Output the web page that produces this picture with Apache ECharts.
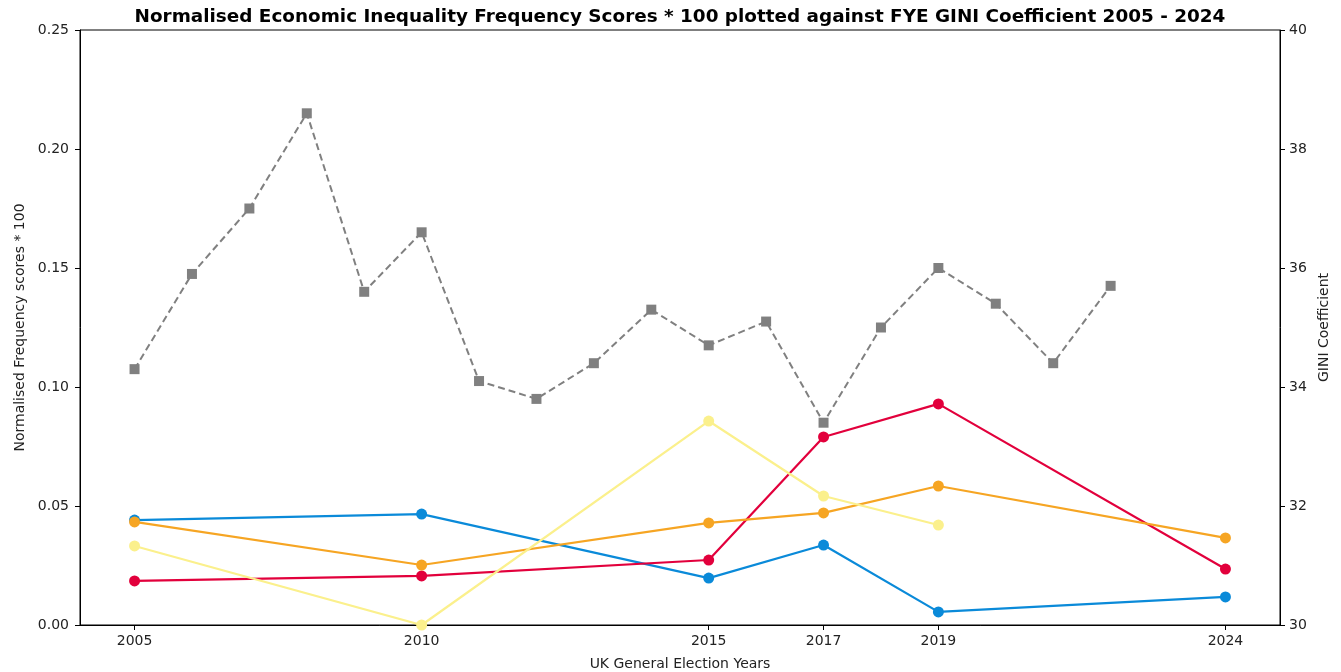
<!DOCTYPE html>
<html>
<head>
<meta charset="utf-8">
<script src="https://cdn.jsdelivr.net/npm/echarts@6/dist/echarts.min.js"></script>
<style>
  html, body { margin: 0; padding: 0; background: #fff; }
  #chart { width: 1341px; height: 672px; }
</style>
</head>
<body>
<div id="chart"></div>
<script>
// Election years used for the party frequency series
const electionYears = [2005, 2010, 2015, 2017, 2019, 2024];

// Normalised frequency scores * 100, per party
const conservative = [0.0441, 0.0466, 0.0197, 0.0336, 0.0055, 0.0118];
const labour       = [0.0185, 0.0206, 0.0273, 0.0790, 0.0929, 0.0235];
const libDem       = [0.0433, 0.0252, 0.0429, 0.0471, 0.0584, 0.0366];
const snp          = [0.0332, 0.0000, 0.0857, 0.0542, 0.0420, null];

// Financial-year-end GINI coefficient
const giniYears = [2005, 2006, 2007, 2008, 2009, 2010, 2011, 2012, 2013,
                   2014, 2015, 2016, 2017, 2018, 2019, 2020, 2021, 2022];
const giniValues = [34.3, 35.9, 37.0, 38.6, 35.6, 36.6, 34.1, 33.8, 34.4,
                    35.3, 34.7, 35.1, 33.4, 35.0, 36.0, 35.4, 34.4, 35.7];

const pair = (xs, ys) => xs.map((x, i) => [x, ys[i]]).filter(p => p[1] !== null);

const FONT = 'DejaVu Sans';
const axisCommon = {
  axisLine: { show: true, lineStyle: { color: '#000', width: 1 } },
  axisTick: { show: true, length: 5, inside: false, lineStyle: { color: '#000' } },
  axisLabel: { color: '#222', fontFamily: FONT, fontSize: 14 },
  splitLine: { show: false }
};

function partySeries(name, ys, color) {
  return {
    name, type: 'line', yAxisIndex: 0,
    data: pair(electionYears, ys),
    symbol: 'circle', symbolSize: 11,
    itemStyle: { color },
    lineStyle: { color, width: 2.2 },
    emphasis: { disabled: true },
    animation: false
  };
}

const chart = echarts.init(document.getElementById('chart'), null, { renderer: 'canvas' });
chart.setOption({
  backgroundColor: '#fff',
  animation: false,
  title: {
    text: 'Normalised Economic Inequality Frequency Scores * 100 plotted against FYE GINI Coefficient 2005 - 2024',
    left: 675, top: 3, textAlign: 'center',
    textStyle: { fontFamily: FONT, fontWeight: 'bold', fontSize: 18.4, color: '#000' }
  },
  grid: {
    left: 80, right: 61, top: 30, bottom: 47,
    outerBoundsMode: 'none', containLabel: false,
    show: true, borderColor: '#000', borderWidth: 1
  },
  xAxis: {
    type: 'value', min: 2004.05, max: 2024.95,
    name: 'UK General Election Years', nameLocation: 'middle', nameGap: 32,
    nameTextStyle: { fontFamily: FONT, fontSize: 14, color: '#222' },
    ...axisCommon,
    axisTick: { ...axisCommon.axisTick, customValues: electionYears },
    axisLabel: { ...axisCommon.axisLabel, margin: 9, customValues: electionYears, formatter: v => String(v) }
  },
  yAxis: [
    {
      type: 'value', min: 0, max: 0.25, interval: 0.05, position: 'left',
      name: 'Normalised Frequency scores * 100', nameLocation: 'middle', nameGap: 53, nameRotate: 90,
      nameTextStyle: { fontFamily: FONT, fontSize: 14, color: '#222' },
      ...axisCommon,
      axisLabel: { ...axisCommon.axisLabel, margin: 11, formatter: v => v.toFixed(2) }
    },
    {
      type: 'value', min: 30, max: 40, interval: 2, position: 'right',
      name: 'GINI Coefficient', nameLocation: 'middle', nameGap: 36, nameRotate: 90,
      nameTextStyle: { fontFamily: FONT, fontSize: 14, color: '#222' },
      ...axisCommon,
      axisLabel: { ...axisCommon.axisLabel, margin: 9 }
    }
  ],
  series: [
    partySeries('Conservative', conservative, '#0a8ad9'),
    partySeries('Labour', labour, '#e2003c'),
    partySeries('Liberal Democrat', libDem, '#f6a523'),
    partySeries('SNP', snp, '#fbf08c'),
    {
      name: 'GINI Coefficient', type: 'line', yAxisIndex: 1,
      data: pair(giniYears, giniValues),
      symbol: 'rect', symbolSize: 10,
      itemStyle: { color: '#808080' },
      lineStyle: { color: '#808080', width: 2, type: [7, 4] },
      emphasis: { disabled: true },
      z: 5
    }
  ]
});
</script>
</body>
</html>
